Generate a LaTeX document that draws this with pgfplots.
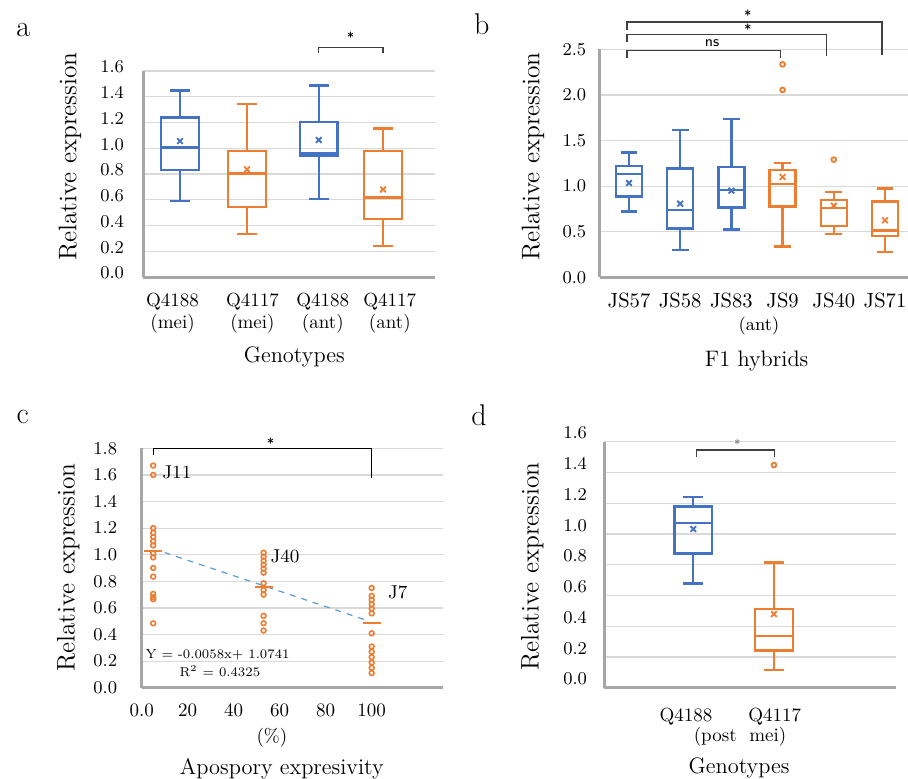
\documentclass[border=0pt]{standalone}
\usepackage{pgfplots}
\pgfplotsset{compat=1.18}
\usepgfplotslibrary{statistics}

\definecolor{xlblue}{HTML}{4472C4}
\definecolor{xlorange}{HTML}{ED7D31}
\definecolor{axgray}{HTML}{A6A6A6}
\definecolor{grgray}{HTML}{D9D9D9}
\definecolor{trendblue}{HTML}{5B9BD5}
\definecolor{brk}{HTML}{404040}

\pgfplotsset{
  panel/.style={
    scale only axis, anchor=south west,
    axis lines=left,
    axis line style={draw=axgray, line width=1.5pt, -},
    major tick length=0pt,
    ymajorgrids, grid style={draw=grgray, line width=0.6pt},
    ymin=0, clip=false,
    boxplot/draw direction=y,
    yticklabel style={font=\fontsize{9.3}{10}\selectfont,
      /pgf/number format/fixed, /pgf/number format/fixed zerofill,
      /pgf/number format/precision=1},
    xticklabel style={font=\fontsize{9.5}{10.7}\selectfont, align=center},
    ylabel style={font=\fontsize{12.7}{14}\selectfont, anchor=center},
    xlabel style={font=\fontsize{11.2}{13}\selectfont, anchor=center},
  },
  bx/.style={line width=1.2pt},
  mn/.style={only marks, mark=x, mark size=2pt, line width=0.9pt},
  ol/.style={only marks, mark=o, mark size=1.2pt, line width=0.9pt},
}

\begin{document}
\begin{tikzpicture}
\path[use as bounding box] (0,0) rectangle (454pt,389pt);

% panel letters
\node[font=\fontsize{15}{16}\selectfont] at (11.65pt,374pt) {a};
\node[font=\fontsize{15}{16}\selectfont] at (240.85pt,376.85pt) {b};
\node[font=\fontsize{15}{16}\selectfont] at (11.35pt,180.35pt) {c};
\node[font=\fontsize{15}{16}\selectfont] at (239.5pt,181.5pt) {d};

% ---------- a ----------
\begin{axis}[panel, at={(71.5pt,250.5pt)}, width=146pt, height=103pt,
  xmin=0.453, xmax=4.768, ymax=1.6, ytick={0,0.2,...,1.6},
  yticklabel style={xshift=-6pt, yshift=2pt},
  xtick={0.89,2.07,3.11,4.10},
  xticklabels={Q4188\\(mei), Q4117\\(mei), Q4188\\(ant), Q4117\\(ant)},
  xticklabel style={yshift=-4.7pt},
  ylabel={Relative expression},
  ylabel style={at={(axis description cs:-0.25,0.584)}},
  xlabel={Genotypes},
  xlabel style={at={(axis description cs:0.518,-0.387)}},
  boxplot/box extend=0.56, boxplot/whisker extend=0.29]
\addplot[bx, xlblue, boxplot prepared={draw position=1, lower whisker=0.588,
  lower quartile=0.83, median=1.007, upper quartile=1.24, upper whisker=1.45}] coordinates {};
\addplot[bx, xlorange, boxplot prepared={draw position=1.99, lower whisker=0.334,
  lower quartile=0.544, median=0.805, upper quartile=0.98, upper whisker=1.344}] coordinates {};
\addplot[bx, xlblue, boxplot prepared={draw position=3.05, lower whisker=0.606,
  lower quartile=0.945, median=0.96, upper quartile=1.204, upper whisker=1.486}] coordinates {};
\addplot[bx, xlorange, boxplot prepared={draw position=4, lower whisker=0.243,
  lower quartile=0.45, median=0.616, upper quartile=0.98, upper whisker=1.152}] coordinates {};
\addplot[mn, xlblue] coordinates {(1,1.056) (3.05,1.064)};
\addplot[mn, xlorange] coordinates {(1.99,0.836) (4,0.68)};
\draw[brk, line width=0.6pt] (axis cs:3.05,1.74) |- (axis cs:4,1.781) -- (axis cs:4,1.74);
\node[font=\fontsize{7}{8}\sffamily] at (axis cs:3.52,1.86) {*};
\end{axis}

% ---------- b ----------
\begin{axis}[panel, at={(299.85pt,250.35pt)}, width=154.15pt, height=114pt,
  xmin=0.428, xmax=6.45, ymax=2.5, ytick={0,0.5,...,2.5},
  yticklabel style={xshift=-3.2pt},
  xtick={1,...,6},
  xticklabels={JS57, JS58, JS83, JS9, JS40, JS71},
  xticklabel style={font=\fontsize{10.3}{11}\selectfont, yshift=-4.5pt},
  ylabel={Relative expression},
  ylabel style={at={(axis description cs:-0.216,0.529)}},
  xlabel={F1 hybrids},
  xlabel style={at={(axis description cs:0.509,-0.367)}},
  boxplot/box extend=0.51, boxplot/whisker extend=0.33]
\addplot[bx, xlblue, boxplot prepared={draw position=1, lower whisker=0.72,
  lower quartile=0.884, median=1.13, upper quartile=1.22, upper whisker=1.37}] coordinates {};
\addplot[bx, xlblue, boxplot prepared={draw position=2, lower whisker=0.30,
  lower quartile=0.533, median=0.735, upper quartile=1.195, upper whisker=1.615}] coordinates {};
\addplot[bx, xlblue, boxplot prepared={draw position=3, lower whisker=0.526,
  lower quartile=0.767, median=0.96, upper quartile=1.21, upper whisker=1.736}] coordinates {};
\addplot[bx, xlorange, boxplot prepared={draw position=4, lower whisker=0.336,
  lower quartile=0.778, median=1.026, upper quartile=1.177, upper whisker=1.253}] coordinates {};
\addplot[bx, xlorange, boxplot prepared={draw position=5, lower whisker=0.478,
  lower quartile=0.563, median=0.757, upper quartile=0.848, upper whisker=0.935}] coordinates {};
\addplot[bx, xlorange, boxplot prepared={draw position=6, lower whisker=0.28,
  lower quartile=0.45, median=0.515, upper quartile=0.833, upper whisker=0.972}] coordinates {};
\addplot[mn, xlblue] coordinates {(1,1.034) (2,0.807) (3,0.95)};
\addplot[mn, xlorange] coordinates {(4,1.10) (5,0.785) (6,0.625)};
\addplot[ol, xlorange] coordinates {(4,2.335) (4,2.054) (5,1.29)};
\node[font=\fontsize{9}{10}\selectfont] at (axis cs:3.54,0) [yshift=-24.35pt] {(ant)};
\draw[brk, line width=0.6pt] (axis cs:0.96,2.41) |- (axis cs:3.96,2.49) -- (axis cs:3.96,2.41);
\draw[brk, line width=0.6pt] (axis cs:0.96,2.577) |- (axis cs:4.86,2.66) -- (axis cs:4.86,2.426);
\draw[brk, line width=0.6pt] (axis cs:0.96,2.717) |- (axis cs:5.94,2.80) -- (axis cs:5.94,2.437);
\node[font=\fontsize{7.5}{8}\sffamily] at (axis cs:2.62,2.57) {ns};
\node[font=\fontsize{7}{8}\sffamily] at (axis cs:3.32,2.72) {*};
\node[font=\fontsize{7}{8}\sffamily] at (axis cs:3.32,2.87) {*};
\end{axis}

% ---------- c ----------
\begin{axis}[panel, at={(70.85pt,45.15pt)}, width=150.65pt, height=119.7pt,
  xmin=0, xmax=131, ymax=1.8, ytick={0,0.2,...,1.8},
  yticklabel style={xshift=-8.8pt},
  xtick={0,20,40,60,80,100},
  xticklabels={0.0,20,40,60,80,100},
  xticklabel style={yshift=-4.3pt},
  ylabel={Relative expression},
  ylabel style={at={(axis description cs:-0.244,0.502)}},
  xlabel={Apospory expresivity},
  xlabel style={at={(axis description cs:0.465,-0.337)}}]
\addplot[trendblue, dashed, line width=0.6pt] coordinates {(10,1.016) (99,0.500)};
\addplot[only marks, mark=o, mark size=1.2pt, line width=0.8pt, xlorange] coordinates {
  (5,1.67) (5,1.60) (5,1.20) (5,1.165) (5,1.133) (5,1.10) (5,1.07) (5,1.01)
  (5,0.98) (5,0.90) (5,0.835) (5,0.705) (5,0.68) (5,0.665) (5,0.484)
  (53,1.015) (53,0.985) (53,0.955) (53,0.925) (53,0.895) (53,0.865)
  (53,0.785) (53,0.735) (53,0.70) (53,0.54) (53,0.485) (53,0.43)
  (100,0.75) (100,0.69) (100,0.66) (100,0.627) (100,0.594) (100,0.559)
  (100,0.409) (100,0.31) (100,0.27) (100,0.23) (100,0.19) (100,0.15) (100,0.11)};
\addplot[only marks, mark=-, mark size=4.5pt, line width=1.1pt, xlorange] coordinates {
  (5,1.03) (53,0.757) (100,0.484)};
\node[font=\fontsize{9.3}{10}\selectfont] at (axis cs:15.3,1.62) {J11};
\node[font=\fontsize{9.3}{10}\selectfont] at (axis cs:62.3,0.985) {J40};
\node[font=\fontsize{9.3}{10}\selectfont] at (axis cs:111.3,0.716) {J7};
\node[font=\fontsize{6.5}{7}\selectfont] at (axis cs:33,0.245) {Y = -0.0058x+ 1.0741};
\node[font=\fontsize{6.5}{7}\selectfont] at (axis cs:34,0.128) {R\textsuperscript{2} = 0.4325};
\node[font=\fontsize{9.5}{10}\selectfont] at (axis description cs:0.432,-0.209) {(\%)};
\draw[black, line width=0.6pt] (axis cs:5,1.747) |- (axis cs:100,1.80) -- (axis cs:100,1.579);
\node[font=\fontsize{7}{8}\sffamily] at (axis cs:56,1.837) {*};
\end{axis}

% ---------- d ----------
\begin{axis}[panel, at={(302pt,45.15pt)}, width=145.85pt, height=123pt,
  xmin=-0.107, xmax=3.51, ymax=1.6, ytick={0,0.2,...,1.6},
  yticklabel style={xshift=-5pt, yshift=4.3pt},
  xtick={0.91,2.01},
  xticklabels={Q4188, Q4117},
  xticklabel style={yshift=-6.5pt},
  ylabel={Relative expression},
  ylabel style={at={(axis description cs:-0.246,0.492)}},
  xlabel={Genotypes},
  xlabel style={at={(axis description cs:0.463,-0.324)}},
  boxplot/box extend=0.47, boxplot/whisker extend=0.25]
\addplot[bx, xlblue, boxplot prepared={draw position=1, lower whisker=0.679,
  lower quartile=0.874, median=1.073, upper quartile=1.179, upper whisker=1.24}] coordinates {};
\addplot[bx, xlorange, boxplot prepared={draw position=2, lower whisker=0.115,
  lower quartile=0.243, median=0.336, upper quartile=0.512, upper whisker=0.815}] coordinates {};
\addplot[mn, xlblue] coordinates {(1,1.032)};
\addplot[mn, xlorange] coordinates {(2,0.479)};
\addplot[ol, xlorange] coordinates {(2,1.448)};
\node[font=\fontsize{9.5}{10}\selectfont] at (axis cs:1.58,0) [yshift=-24.6pt] {(post\ \ mei)};
\draw[brk, line width=0.6pt] (axis cs:1.04,1.502) |- (axis cs:2.01,1.546) -- (axis cs:2.01,1.502);
\node[font=\fontsize{6}{7}\sffamily, brk!70] at (axis cs:1.545,1.585) {*};
\end{axis}
\end{tikzpicture}
\end{document}
